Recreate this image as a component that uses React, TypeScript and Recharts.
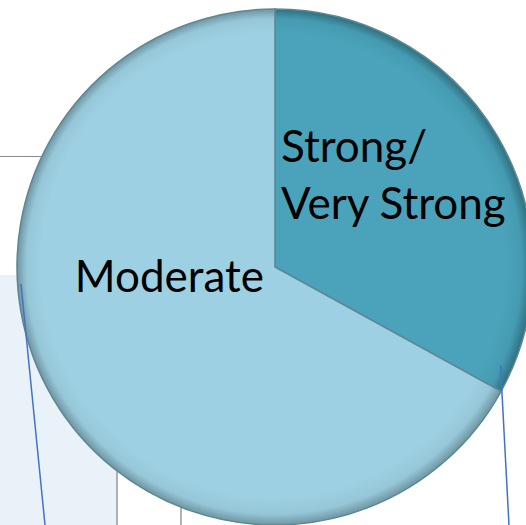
import React from "react";
import { PieChart, Pie, Cell } from "recharts";

const categories = ["Strong/Very Strong", "Moderate"];
const values = [33, 67];
const labelLines = [["Strong/", "Very Strong"], ["Moderate"]];

const data = categories.map((name, i) => ({ name, value: values[i] }));

const W = 526;
const H = 525;
const CX = 275;
const CY = 267;
const R = 258;

const FONT = "Lato, 'Open Sans', sans-serif";

const renderLabel = (props: any) => {
  const { cx, cy, index } = props;
  if (index === 0) {
    return (
      <text x={cx + 6} y={cy - 105} fill="#000" fontSize={44} fontFamily={FONT} textAnchor="start">
        <tspan x={cx + 6} y={cy - 105}>{labelLines[0][0]}</tspan>
        <tspan x={cx + 6} y={cy - 48}>{labelLines[0][1]}</tspan>
      </text>
    );
  }
  return (
    <text x={cx - 11} y={cy + 25} fill="#000" fontSize={44} fontFamily={FONT} textAnchor="end">
      {labelLines[1][0]}
    </text>
  );
};

const colors = ["url(#gDark)", "url(#gLight)"];

export default function App() {
  return (
    <div style={{ position: "fixed", left: 0, top: 0, width: W, height: H, background: "#fff", overflow: "hidden" }}>
      <svg width={W} height={H} style={{ position: "absolute", left: 0, top: 0 }}>
        <rect x={0} y={275} width={117} height={250} fill="#EAF2F9" />
        <line x1={0} y1={156.5} x2={60} y2={156.5} stroke="#8a8a8a" strokeWidth={1.2} />
        <line x1={117} y1={470} x2={117} y2={525} stroke="#999" strokeWidth={1.5} />
        <line x1={181} y1={505} x2={181} y2={525} stroke="#999" strokeWidth={1.5} />
      </svg>
      <div style={{ position: "absolute", left: 0, top: 0 }}>
        <PieChart width={W} height={H} margin={{ top: 0, right: 0, bottom: 0, left: 0 }}>
          <defs>
            <radialGradient id="gLight" gradientUnits="userSpaceOnUse" cx={CX} cy={CY} r={R} fx={CX - 20} fy={CY - 20}>
              <stop offset="0" stopColor="#9DD0E2" />
              <stop offset="0.9" stopColor="#9DD0E2" />
              <stop offset="0.96" stopColor="#96c7d8" />
              <stop offset="1" stopColor="#6f95a2" />
            </radialGradient>
            <radialGradient id="gDark" gradientUnits="userSpaceOnUse" cx={CX} cy={CY} r={R} fx={CX - 20} fy={CY - 20}>
              <stop offset="0" stopColor="#4AA3BA" />
              <stop offset="0.9" stopColor="#4AA3BA" />
              <stop offset="0.96" stopColor="#459bb1" />
              <stop offset="1" stopColor="#2f6f80" />
            </radialGradient>
          </defs>
          <Pie
            data={data}
            dataKey="value"
            nameKey="name"
            cx={CX}
            cy={CY}
            outerRadius={R}
            startAngle={90}
            endAngle={-270}
            stroke="#5d8793"
            strokeWidth={1.5}
            label={renderLabel}
            labelLine={false}
            isAnimationActive={false}
          >
            {data.map((d, i) => (
              <Cell key={d.name} fill={colors[i]} />
            ))}
          </Pie>
        </PieChart>
      </div>
      <svg width={W} height={H} style={{ position: "absolute", left: 0, top: 0, pointerEvents: "none" }}>
        <line x1={21} y1={284} x2={45} y2={525} stroke="#4472C4" strokeWidth={1.5} />
        <line x1={500.5} y1={365} x2={509} y2={525} stroke="#4472C4" strokeWidth={1.5} />
      </svg>
    </div>
  );
}
